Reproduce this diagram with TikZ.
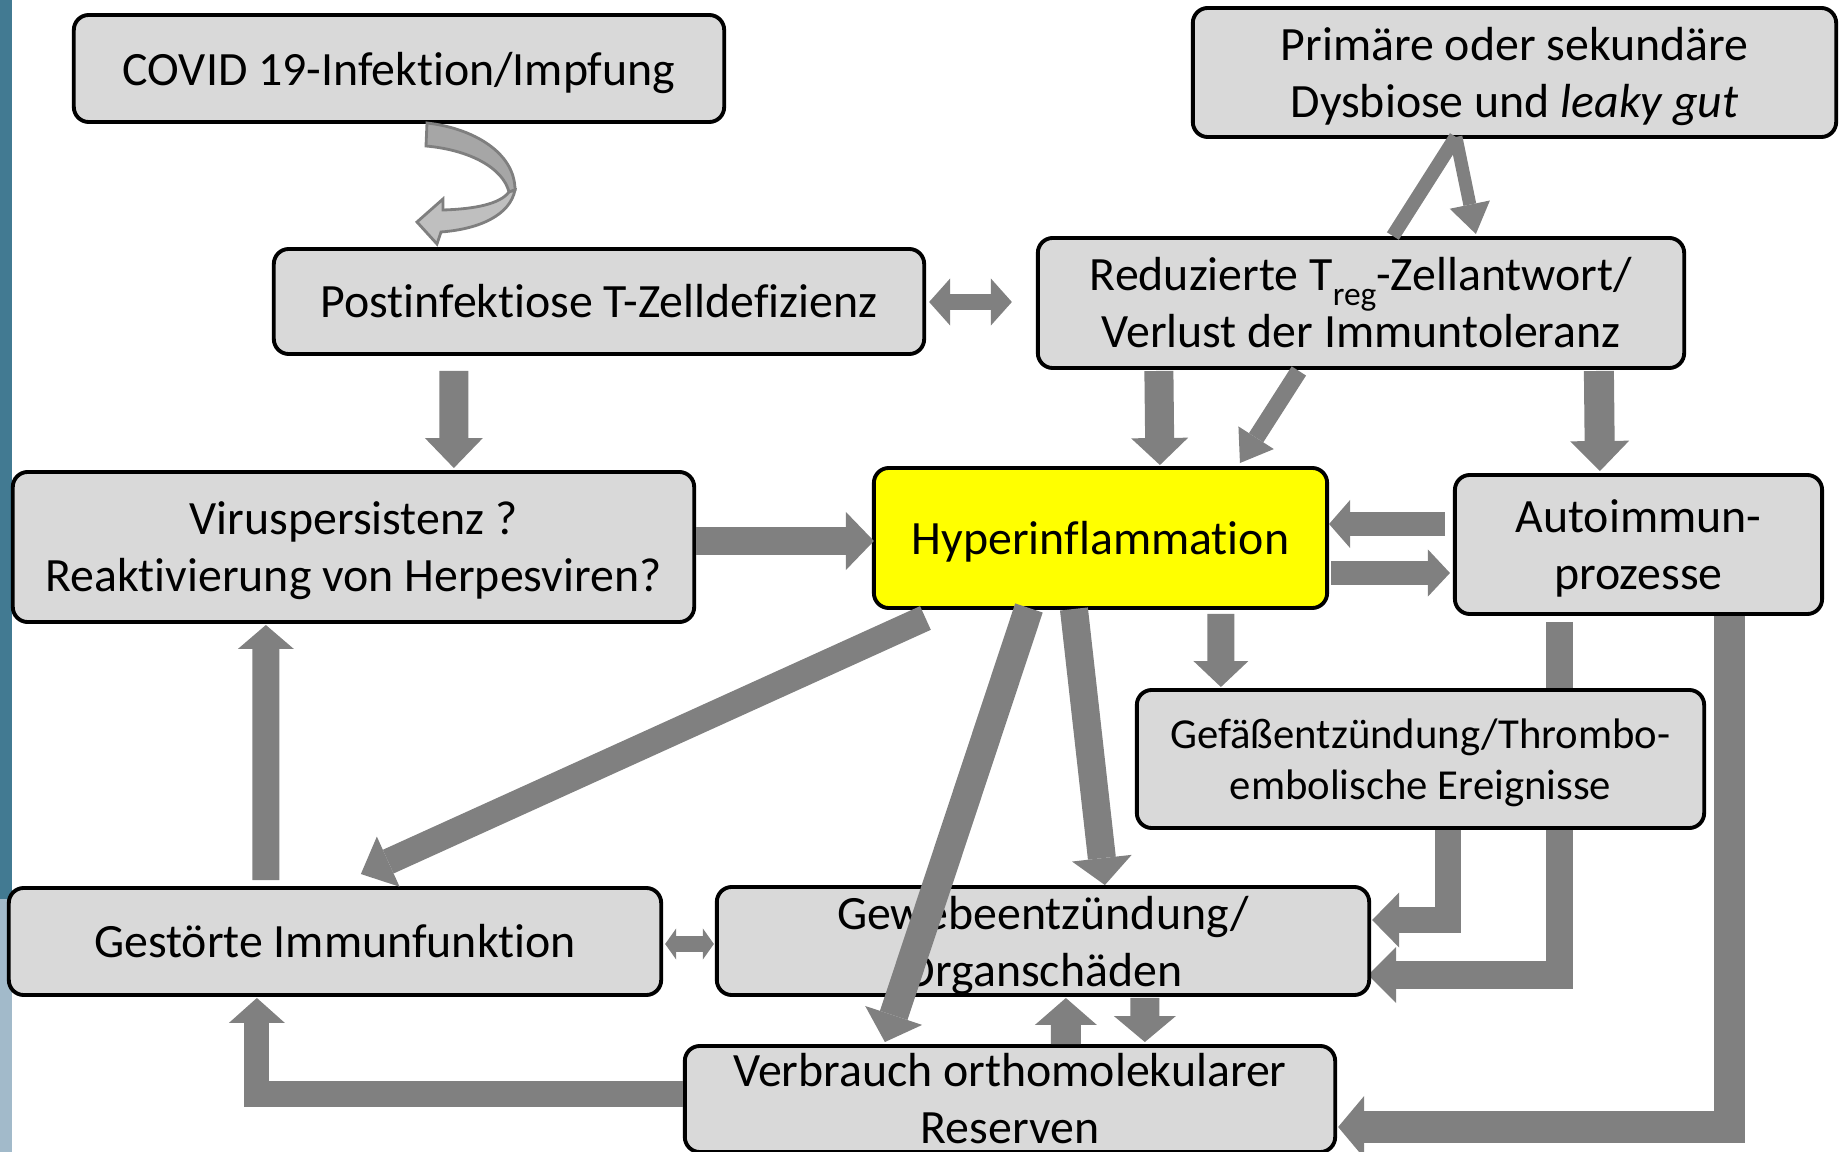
\documentclass[tikz,border=0pt]{standalone}
\usepackage{fontspec}
\setmainfont{Carlito}[Ligatures=NoCommon]
\usetikzlibrary{arrows.meta,calc}
\definecolor{boxfill}{HTML}{D9D9D9}
\definecolor{arrowgray}{HTML}{808080}
\definecolor{hyperfill}{HTML}{FFFF00}
\definecolor{stripdark}{HTML}{427A92}
\definecolor{striplight}{HTML}{A2BACA}
\definecolor{curvedark}{HTML}{A6A6A6}
\definecolor{curvelight}{HTML}{BFBFBF}
\definecolor{curveedge}{HTML}{7F7F7F}
\pgfdeclarelayer{back}
\pgfsetlayers{back,main}
% a line whose descenders do not count for vertical centring
\newcommand{\zerodp}[1]{\raisebox{0pt}[\height][0pt]{#1}}

\begin{document}
\begin{tikzpicture}[x=0.01cm,y=-0.01cm,
  box/.style={draw=black, line width=1.1pt, fill=boxfill, rounded corners=1.5mm,
    inner sep=0pt, align=center, font=\fontsize{13.6}{16.2}\selectfont},
  blk/.style n args={3}{draw=arrowgray, line width=#1,
    -{Triangle[width=#2,length=#3,line width=0pt]}},
  dblk/.style n args={3}{draw=arrowgray, line width=#1,
    {Triangle[width=#2,length=#3,line width=0pt]}-{Triangle[width=#2,length=#3,line width=0pt]}},
  bar/.style={draw=arrowgray, line width=#1},
]
\useasboundingbox (0,0) rectangle (1839,1152);

% boxes
\node[box, minimum width=6.5cm, minimum height=1.07cm] (covid) at (399,68.5)
  {\zerodp{COVID 19-Infektion/Impfung}};
\node[box, minimum width=6.43cm, minimum height=1.29cm] (dysb) at (1514.5,72.5)
  {Primäre oder sekundäre\\\zerodp{Dysbiose und \textit{leaky gut}}};
\node[box, minimum width=6.5cm, minimum height=1.05cm] (post) at (599,301.5)
  {Postinfektiose T-Zelldefizienz};
\node[box, minimum width=6.46cm, minimum height=1.3cm] (treg) at (1361,303)
  {Reduzierte T\raisebox{-0.3em}{\fontsize{9.5}{9.5}\selectfont reg}-Zellantwort/\\Verlust der Immuntoleranz};
\node[box, minimum width=6.81cm, minimum height=1.5cm] (virus) at (353.5,547)
  {Viruspersistenz ?\\\zerodp{Reaktivierung von Herpesviren?}};
\node[box, fill=hyperfill, minimum width=4.53cm, minimum height=1.4cm] (hyper) at (1100.5,538)
  {\zerodp{Hyperinflammation}};
\node[box, minimum width=3.67cm, minimum height=1.39cm] (auto) at (1638.5,544.5)
  {Autoimmun-\\\zerodp{prozesse}};
\node[box, font=\fontsize{12.15}{14.5}\selectfont, minimum width=5.67cm, minimum height=1.38cm] (gef) at (1420.5,759)
  {Gefäßentzündung/Thrombo-\\\zerodp{embolische Ereignisse}};
\node[box, minimum width=6.52cm, minimum height=1.07cm] (immun) at (335,941.5)
  {Gestörte Immunfunktion};
\node[box, minimum width=6.52cm, minimum height=1.08cm] (gewebe) at (1043,941)
  {Gewebeentzündung/\\\zerodp{Organschäden}};
\node[box, minimum width=6.5cm, minimum height=1.06cm] (verb) at (1010,1099)
  {Verbrauch orthomolekularer\\Reserven};

% items behind the boxes
\begin{pgfonlayer}{back}
  \fill[stripdark] (0,0) rectangle (12,899);
  \fill[striplight] (0,899) rectangle (12,1152);
  \draw[blk={2.7mm}{5.6mm}{2.8mm}] ($(auto.south west)+(107,6)$) |- ($(gewebe.east)+(-3,34)$);
\end{pgfonlayer}

% curved arrow from the infection to the T-cell deficiency
\path[fill=curvedark, draw=curveedge, line width=0.8pt]
  (427,123) .. controls (472,128) and (515,152) .. (515,190) -- (509,192)
  .. controls (503,168) and (470,150) .. (426,146) -- cycle;
\path[fill=curvelight, draw=curveedge, line width=0.8pt]
  (509,192) .. controls (500,204) and (475,209) .. (443,210) -- (443,199) -- (417,222)
  -- (437,244) -- (441,232) .. controls (480,229) and (510,215) .. (515,190) -- cycle;

% connectors
\draw[dblk={1.5mm}{4.7mm}{2.1mm}] ($(post.east)+(3,0.5)$) -- ($(treg.west)+(-24,-1)$);
\draw[bar=1.4mm] ($(treg.north west)+(357,0)$) -- ($(dysb.south west)+(265,-2)$);
\draw[blk={1.3mm}{4.1mm}{3mm}] ($(dysb.south west)+(265,-2)$) -- ($(treg.north west)+(440,-2)$);
\draw[blk={2.9mm}{5.8mm}{3mm}] ($(post.south west)+(182,15)$) -- ($(virus.north west)+(443,-2)$);
\draw[blk={2.9mm}{5.7mm}{2.7mm}] ($(treg.south west)+(123,1)$) -- ($(hyper.north west)+(288,-1)$);
\draw[blk={1.7mm}{4.2mm}{3mm}] ($(treg.south west)+(263,1)$) -- ($(hyper.north west)+(368,-3)$);
\draw[blk={3mm}{5.9mm}{3mm}] ($(treg.south west)+(563,1)$) -- ($(auto.north west)+(147,-2)$);
\draw[blk={2.8mm}{5.8mm}{2.8mm}] ($(virus.east)+(0,-6)$) -- ($(hyper.west)+(2,3)$);
\draw[blk={2.3mm}{4.8mm}{2.1mm}] ($(auto.west)+(-8,-20.5)$) -- ($(hyper.east)+(0,-14)$);
\draw[blk={2.3mm}{4.7mm}{2.2mm}] ($(hyper.east)+(2,35)$) -- ($(auto.west)+(-3,28.5)$);
\draw[blk={2.7mm}{5.5mm}{2.6mm}] ($(hyper.south west)+(349,4)$) -- ($(gef.north west)+(86,-1)$);
\draw[blk={2.6mm}{5.5mm}{3mm}] ($(hyper.south west)+(53.5,8)$) -- ($(immun.north west)+(354,-12)$);
\draw[blk={2.8mm}{6mm}{2.7mm}] ($(hyper.south west)+(202,-1)$) -- ($(gewebe.north west)+(390,0)$);
\draw[blk={2.7mm}{5.6mm}{2.4mm}] ($(immun.north west)+(259,-6)$) -- ($(virus.south west)+(255,1)$);
\draw[dblk={1.6mm}{3.1mm}{1.1mm}] ($(immun.east)+(2,2.5)$) -- ($(gewebe.west)+(-1,3)$);
\draw[blk={2.5mm}{5.6mm}{2.5mm}] ($(verb.west)+(0,-5)$) -| ($(immun.south west)+(250,1)$);
\draw[blk={3mm}{6.2mm}{2.7mm}] ($(verb.north west)+(383,0)$) -- ($(gewebe.south west)+(351,1)$);
\draw[blk={2.9mm}{6.2mm}{2.6mm}] ($(gewebe.south west)+(430,1)$) -- ($(verb.north west)+(462,-2)$);
\draw[blk={2.6mm}{5.5mm}{2.7mm}] ($(gef.south west)+(313,0)$) |- ($(gewebe.east)+(1,-21)$);
\draw[blk={3.1mm}{6.2mm}{2.6mm}] ($(auto.south west)+(277,0)$) |- ($(verb.east)+(1,28)$);
\draw[blk={2.9mm}{6mm}{2.8mm}] ($(hyper.south west)+(157,-2)$) -- ($(verb.north west)+(202,-2)$);
\end{tikzpicture}
\end{document}
